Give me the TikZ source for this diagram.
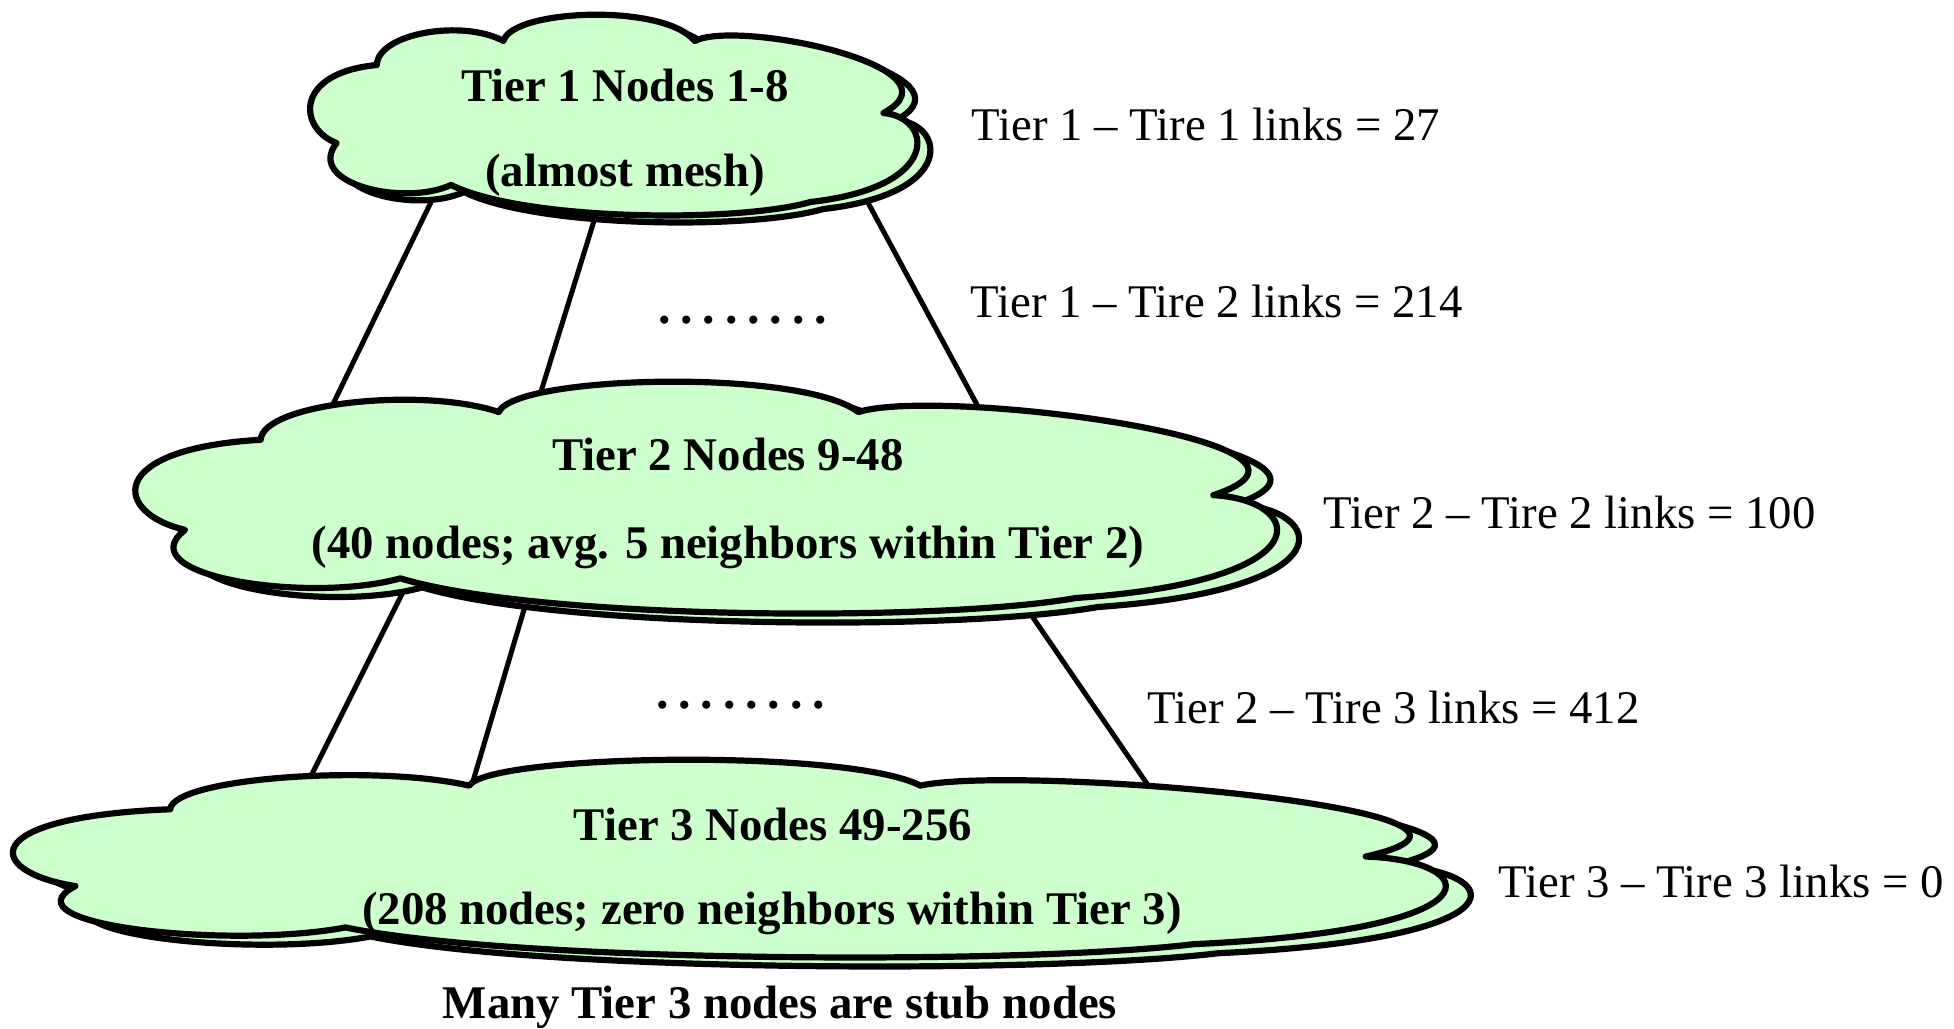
\documentclass[tikz,border=0pt]{standalone}
\usepackage{fontspec}
\setmainfont{Liberation Serif}
\definecolor{cloudgreen}{RGB}{204,255,204}
\tikzset{
  cloudshape/.style={insert path={(4.2,64) .. controls (-2,57) and (-3,29) .. (10.8,25)
    .. controls (11,9) and (25,2) .. (31.6,13)
    .. controls (33,-3) and (58,-6) .. (63,13)
    .. controls (70,2) and (108,26) .. (94,49)
    .. controls (102,51) and (104,86) .. (82,93.5)
    .. controls (70,104) and (35,103) .. (23,85)
    .. controls (15,96) and (-1,84) .. (4.2,64) -- cycle}},
  cloudbox/.style={draw=black, fill=cloudgreen, line width=3.1pt, line join=round},
  link/.style={draw=black, line width=2.5pt, shorten <=-4pt, shorten >=-4pt},
  lbl/.style={anchor=base west, inner sep=0pt, font=\fontsize{23.4}{28}\selectfont},
  ctxt/.style={anchor=base, inner sep=0pt, font=\fontsize{23.4}{28}\selectfont\bfseries},
  dots/.style={anchor=base west, inner sep=0pt, font=\fontsize{25}{28}\selectfont\bfseries}
}
\newcommand\cloudpair[6]{%
  \begin{scope}[shift={(#1+#5,#2+#6)}, xscale=#3/100, yscale=#4/100]
    \path[cloudbox, cloudshape];
  \end{scope}
  \begin{scope}[shift={(#1,#2)}, xscale=#3/100, yscale=#4/100]
    \path[cloudbox, cloudshape];
  \end{scope}}
\newcommand\dotrow{.\kern4.9pt.\kern4.9pt.\kern4.9pt.\kern4.9pt.\kern4.9pt.\kern4.9pt.\kern4.9pt.}
\begin{document}
\begin{tikzpicture}[x=0.5pt,y=-0.5pt]
\useasboundingbox (0,0) rectangle (1954,1028);

% link end points
\coordinate (u1) at (433,198);  \coordinate (v1) at (334,402);
\coordinate (u2) at (598,208);  \coordinate (v2) at (539,398);
\coordinate (u3) at (866,199);  \coordinate (v3) at (982,414);
\coordinate (w1) at (399,600);  \coordinate (z1) at (314,770);
\coordinate (w2) at (523,613);  \coordinate (z2) at (471,788);
\coordinate (w3) at (1023,603); \coordinate (z3) at (1152,791);

\draw[link] (u1) -- (v1);
\draw[link] (u2) -- (v2);
\draw[link] (u3) -- (v3);
\draw[link] (w1) -- (z1);
\draw[link] (w2) -- (z2);
\draw[link] (w3) -- (z3);

% clouds
\cloudpair{311}{15}{609}{200}{13}{7}
\cloudpair{137}{382}{1145}{231}{22}{9}
\cloudpair{15}{760}{1437}{197}{25}{9}

% cloud texts
\node[ctxt] (t1a) at (625,101) {Tier 1 Nodes 1-8};
\node[ctxt] (t1b) at (625,186) {(almost mesh)};
\node[ctxt] (t2a) at (728,470) {Tier 2 Nodes 9-48};
\node[ctxt] (t2b) at (728,558) {(40 nodes; avg. 5 neighbors within Tier 2)};
\node[ctxt] (t3a) at (773,840) {Tier 3 Nodes 49-256};
\node[ctxt] (t3b) at (772,924) {(208 nodes; zero neighbors within Tier 3)};
\node[ctxt] (stub) at (780,1018) {Many Tier 3 nodes are stub nodes};

% dots
\node[dots] (d1) at (658,323) {\dotrow};
\node[dots] (d2) at (656,708) {\dotrow};

% link counts
\node[lbl] (l1) at (971,140) {Tier 1 – Tire 1 links = 27};
\node[lbl] (l2) at (970,317) {Tier 1 – Tire 2 links = 214};
\node[lbl] (l3) at (1323,528) {Tier 2 – Tire 2 links = 100};
\node[lbl] (l4) at (1147,723) {Tier 2 – Tire 3 links = 412};
\node[lbl] (l5) at (1498,897) {Tier 3 – Tire 3 links = 0};
\end{tikzpicture}
\end{document}
